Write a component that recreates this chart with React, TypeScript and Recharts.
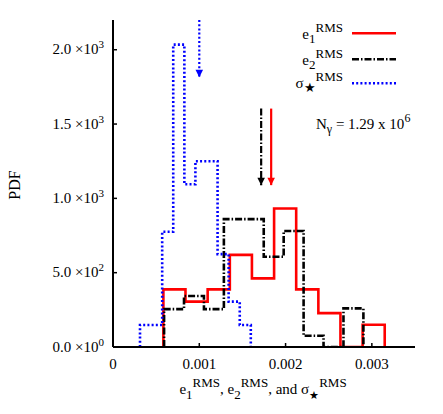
import React from 'react';
import { LineChart, Line, XAxis, YAxis } from 'recharts';

const FONT = 'Liberation Serif';

// bin edges and PDF heights
const e1Edges = [0.000584, 0.00084, 0.001097, 0.001354, 0.00161, 0.001867, 0.002123, 0.00238, 0.002636, 0.002893, 0.003149];
const e1Pdf = [388, 305, 388, 620, 462, 932, 388, 228, 0, 150];

const e2Edges = [0.000592, 0.000823, 0.001054, 0.001285, 0.001516, 0.001747, 0.001978, 0.002209, 0.00244, 0.002671, 0.002902];
const e2Pdf = [255, 343, 255, 860, 860, 607, 780, 76, 0, 260];

const sigmaEdges = [0.000313, 0.000441, 0.00057, 0.000698, 0.000827, 0.000955, 0.001083, 0.001212, 0.00134, 0.001469, 0.001597];
const sigmaPdf = [148, 148, 775, 2034, 1095, 1250, 1250, 625, 305, 148];

// mean markers (arrows): x position, top and tip of the arrow
const arrowX = [0.001833, 0.001717, 0.001];
const arrowTop = [1604, 1604, 2200];
const arrowTip = [1089, 1089, 1815];
const arrowColors = ['#ff0000', '#000000', '#0000ff'];

const xTicks = [0, 0.001, 0.002, 0.003];
const xTickLabels = ['0', '0.001', '0.002', '0.003'];
const yTicks = [0, 500, 1000, 1500, 2000];
const yTickMantissa = ['0.0', '5.0', '1.0', '1.5', '2.0'];
const yTickExponent = ['0', '2', '3', '3', '3'];

const X_DOMAIN = [0, 0.0035];
const Y_DOMAIN = [0, 2200];

const DASH_DOT = '7 2 1.5 2';
const DOTTED = '2 2.2';

function histogramPoints(edges: number[], pdf: number[]) {
  const pts = [{ x: edges[0], y: 0 }];
  pdf.forEach((v, i) => pts.push({ x: edges[i], y: v }));
  pts.push({ x: edges[edges.length - 1], y: 0 });
  return pts;
}

const e1Data = histogramPoints(e1Edges, e1Pdf);
const e2Data = histogramPoints(e2Edges, e2Pdf);
const sigmaData = histogramPoints(sigmaEdges, sigmaPdf);

const arrowData = arrowX.map((x, i) => [
  { x, y: arrowTop[i] },
  { x, y: arrowTip[i] },
]);

const XTickBottom = (props: any) => {
  const { x, y, payload } = props;
  const i = xTicks.indexOf(payload.value);
  return (
    <g>
      <line x1={x} x2={x} y1={y} y2={y - 4} stroke="#000" strokeWidth={1.5} />
      <text x={x} y={y + 22} textAnchor="middle" fontSize={15} fontFamily={FONT} fill="#000">
        {xTickLabels[i]}
      </text>
    </g>
  );
};

const XTickTop = (props: any) => {
  const { x, y } = props;
  return <line x1={x} x2={x} y1={y} y2={y + 4} stroke="#000" strokeWidth={1.5} />;
};

const YTickLeft = (props: any) => {
  const { x, y, payload } = props;
  const i = yTicks.indexOf(payload.value);
  return (
    <g>
      <line x1={x} x2={x + 4} y1={y} y2={y} stroke="#000" strokeWidth={1.5} />
      <text x={x - 9} y={y + 4.5} textAnchor="end" fontSize={15} fontFamily={FONT} fill="#000">
        {yTickMantissa[i]} ×10
        <tspan fontSize={11} dy={-6}>{yTickExponent[i]}</tspan>
      </text>
    </g>
  );
};

const YTickRight = (props: any) => {
  const { x, y } = props;
  return <line x1={x} x2={x - 4} y1={y} y2={y} stroke="#000" strokeWidth={1.5} />;
};

const arrowHead = (color: string) => (props: any) => {
  const { cx, cy, index } = props;
  if (index !== 1) return <g key={`n${index}`} />;
  return (
    <path
      key={`a${index}`}
      d={`M${cx - 3.8},${cy - 7.5} L${cx + 3.8},${cy - 7.5} L${cx},${cy} Z`}
      fill={color}
      stroke="none"
    />
  );
};

const frame = { stroke: '#000', strokeWidth: 2 };

function RmsLabel({ x, y, base, script }: any) {
  return (
    <text x={x} y={y} textAnchor="end" fontSize={15} fontFamily={FONT} fill="#000">
      {base}
      <tspan fontSize={13} dy={4}>{script}</tspan>
      <tspan fontSize={13} dy={-11}>RMS</tspan>
    </text>
  );
}

export default function App() {
  return (
    <div style={{ position: 'absolute', left: 0, top: 0, width: 443, height: 414, background: '#fff', fontFamily: FONT }}>
      <LineChart width={443} height={414} margin={{ top: 20, right: 28, bottom: 0, left: 0 }}>
        <XAxis
          xAxisId="b"
          dataKey="x"
          type="number"
          domain={X_DOMAIN}
          ticks={xTicks}
          allowDataOverflow
          height={67}
          tickSize={0}
          tickMargin={0}
          tickLine={false}
          tick={<XTickBottom />}
          axisLine={frame}
        />
        <XAxis
          xAxisId="t"
          orientation="top"
          dataKey="x"
          type="number"
          domain={X_DOMAIN}
          ticks={xTicks}
          allowDataOverflow
          height={0}
          tickSize={0}
          tickMargin={0}
          tickLine={false}
          tick={<XTickTop />}
          axisLine={frame}
        />
        <YAxis
          yAxisId="l"
          type="number"
          domain={Y_DOMAIN}
          ticks={yTicks}
          allowDataOverflow
          width={113}
          tickSize={0}
          tickMargin={0}
          tickLine={false}
          tick={<YTickLeft />}
          axisLine={frame}
        />
        <YAxis
          yAxisId="r"
          orientation="right"
          type="number"
          domain={Y_DOMAIN}
          ticks={yTicks}
          allowDataOverflow
          width={0}
          tickSize={0}
          tickMargin={0}
          tickLine={false}
          tick={<YTickRight />}
          axisLine={frame}
        />
        <Line xAxisId="b" yAxisId="l" data={e1Data} dataKey="y" type="stepAfter" stroke="#ff0000" strokeWidth={2.6} dot={false} isAnimationActive={false} />
        <Line xAxisId="b" yAxisId="l" data={e2Data} dataKey="y" type="stepAfter" stroke="#000000" strokeWidth={2.6} strokeDasharray={DASH_DOT} dot={false} isAnimationActive={false} />
        <Line xAxisId="b" yAxisId="l" data={sigmaData} dataKey="y" type="stepAfter" stroke="#0000ff" strokeWidth={2.6} strokeDasharray={DOTTED} dot={false} isAnimationActive={false} />
        {arrowData.map((d, i) => (
          <Line
            key={`arrow${i}`}
            xAxisId="b"
            yAxisId="l"
            data={d}
            dataKey="y"
            type="linear"
            stroke={arrowColors[i]}
            strokeWidth={2.2}
            strokeDasharray={i === 1 ? DASH_DOT : i === 2 ? DOTTED : undefined}
            dot={arrowHead(arrowColors[i])}
            activeDot={false}
            isAnimationActive={false}
          />
        ))}
      </LineChart>
      <svg width={443} height={414} style={{ position: 'absolute', left: 0, top: 0, pointerEvents: 'none' }}>
        <RmsLabel x={343} y={39} base="e" script="1" />
        <RmsLabel x={343} y={65} base="e" script="2" />
        <RmsLabel x={343} y={87.5} base="σ" script="★" />
        <line x1={352} x2={396} y1={33.3} y2={33.3} stroke="#ff0000" strokeWidth={2.6} />
        <line x1={352} x2={396} y1={59.3} y2={59.3} stroke="#000" strokeWidth={2.6} strokeDasharray={DASH_DOT} />
        <line x1={352} x2={396} y1={83.3} y2={83.3} stroke="#0000ff" strokeWidth={2.6} strokeDasharray={DOTTED} />
        <text x={316} y={128.5} fontSize={15} fontFamily={FONT} fill="#000">
          N<tspan fontSize={12} dy={4}>γ</tspan>
          <tspan dy={-4}> = 1.29 x 10</tspan>
          <tspan fontSize={12} dy={-7}>6</tspan>
        </text>
        <text x={20} y={185} transform="rotate(-90 20 185)" textAnchor="middle" fontSize={16} fontFamily={FONT} fill="#000">
          PDF
        </text>
        <text x={263} y={393.5} textAnchor="middle" fontSize={15} fontFamily={FONT} fill="#000">
          e<tspan fontSize={13} dy={5}>1</tspan>
          <tspan fontSize={13} dy={-12}>RMS</tspan>
          <tspan dy={7}>, e</tspan>
          <tspan fontSize={13} dy={5}>2</tspan>
          <tspan fontSize={13} dy={-12}>RMS</tspan>
          <tspan dy={7}>, and σ</tspan>
          <tspan fontSize={11} dy={5}>★</tspan>
          <tspan fontSize={13} dy={-12}>RMS</tspan>
        </text>
      </svg>
    </div>
  );
}
